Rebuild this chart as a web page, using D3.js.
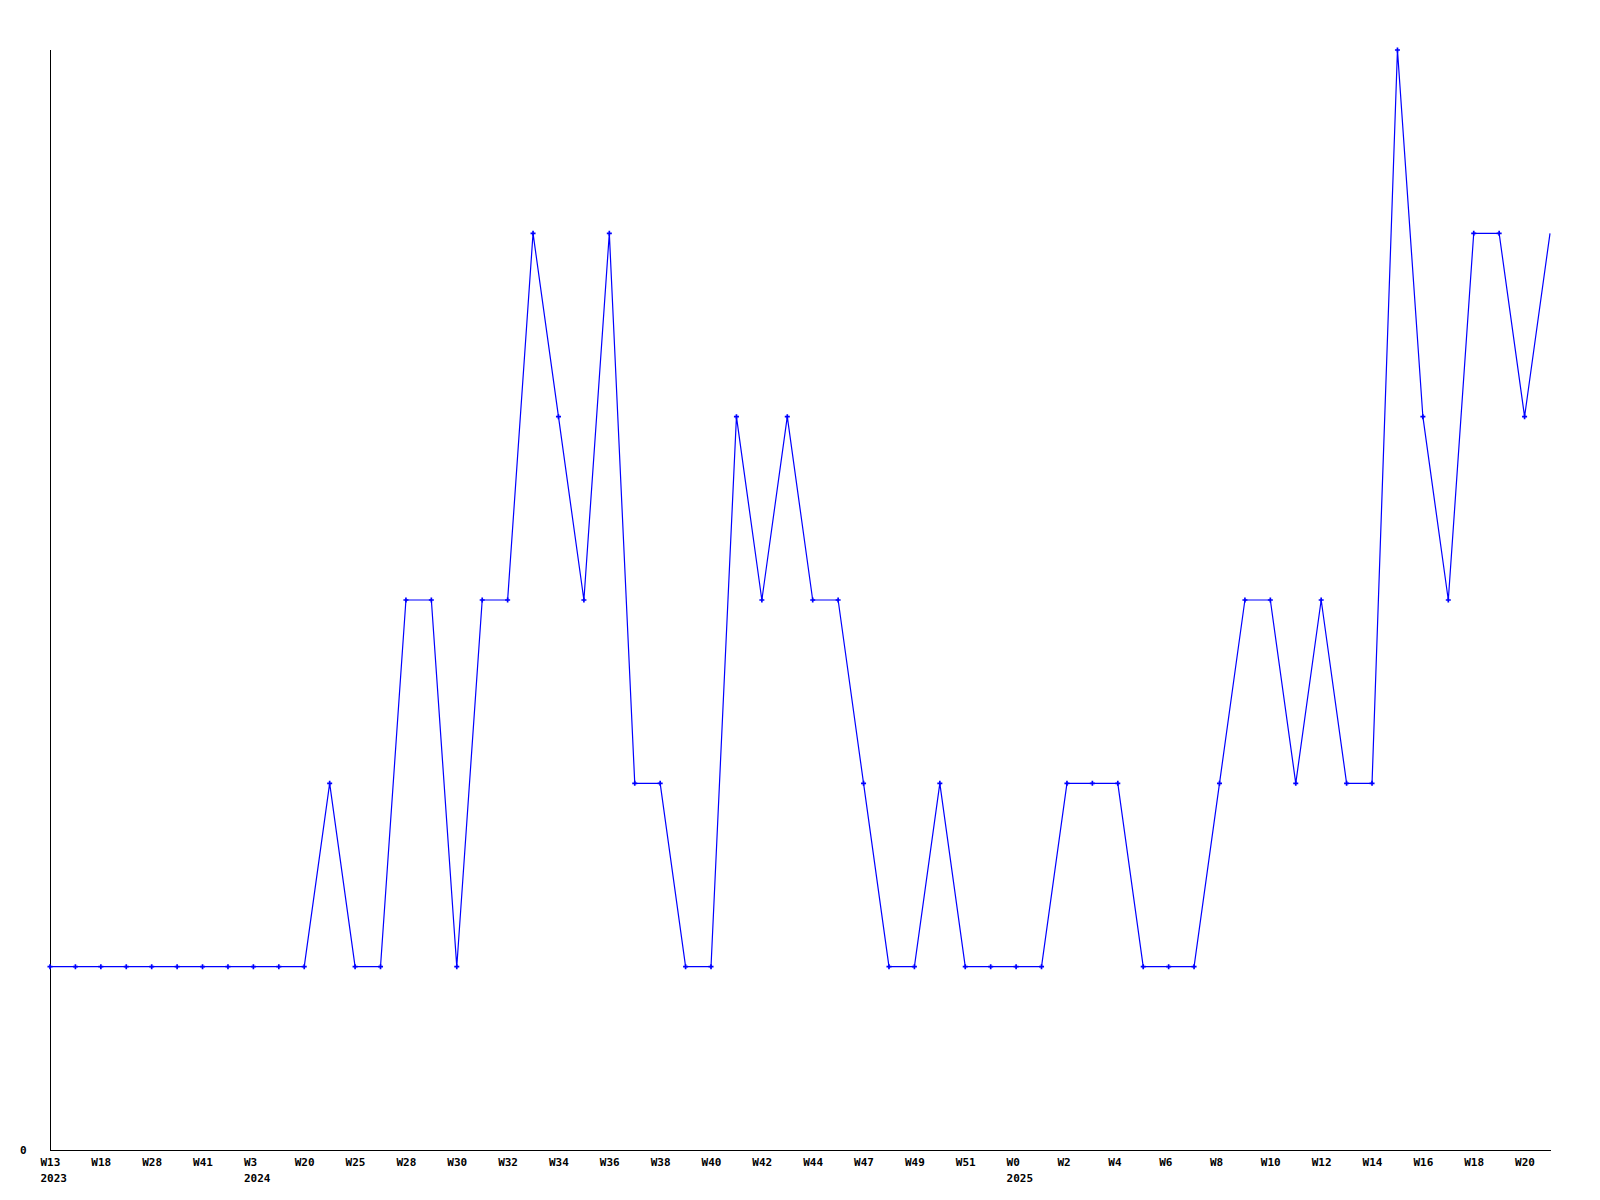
<!DOCTYPE html>
<html>
<head>
<meta charset="utf-8">
<script src="https://cdn.jsdelivr.net/npm/d3@7"></script>
<style>
  html, body { margin: 0; padding: 0; background: #fff; }
  svg { display: block; }
  text { font-family: "DejaVu Sans Mono", "Liberation Mono", monospace; font-weight: bold; font-size: 11px; fill: #000; }
</style>
</head>
<body>
<svg id="chart" width="1600" height="1200"></svg>
<script>
// Weekly values (one per point, index 0..59)
const values = [1,1,1,1,1,1,1,1,1,1,1,2,1,1,3,3,1,3,3,5,4,3,5,2,2,1,1,4,3,4,3,3,2,1,1,2,1,1,1,1,2,2,2,1,1,1,2,3,3,2,3,2,2,6,4,3,5,5,4,5];
// Tick labels shown on every second point
const tickLabels = ["W13","W18","W28","W41","W3","W20","W25","W28","W30","W32","W34","W36","W38","W40","W42","W44","W47","W49","W51","W0","W2","W4","W6","W8","W10","W12","W14","W16","W18","W20"];
// Year labels under certain ticks (tick index -> year)
const yearTicks = [0, 4, 19];
const yearLabels = ["2023","2024","2025"];
const yTicks = [0];

const svg = d3.select("#chart");
const mLeft = 50, mRight = 1550, mTop = 50, mBottom = 1150;

const x = d3.scaleLinear().domain([0, values.length - 1]).range([mLeft, mRight]);
const y = d3.scaleLinear().domain([0, 6]).range([mBottom, mTop]);

const tickIdx = tickLabels.map((_, i) => i * 2);

// X axis
const xAxis = d3.axisBottom(x)
  .tickValues(tickIdx)
  .tickSize(0)
  .tickSizeOuter(0)
  .tickFormat((d, i) => tickLabels[i]);
const gx = svg.append("g").attr("transform", `translate(0,${mBottom})`).call(xAxis);
gx.select(".domain").attr("stroke", "#000").attr("stroke-width", 1).attr("d", `M${mLeft},0.5H${mRight + 1}`).attr("shape-rendering", "crispEdges");
gx.selectAll(".tick text")
  .attr("text-anchor", "start")
  .attr("x", -10)
  .attr("y", 16)
  .attr("dy", 0)
  .style("font-family", "'DejaVu Sans Mono', monospace")
  .style("font-size", "11px")
  .style("font-weight", "bold")
  .attr("fill", "#000");
gx.selectAll(".tick").each(function(d, i) {
  const k = yearTicks.indexOf(i);
  if (k >= 0) {
    d3.select(this).append("text")
      .attr("x", -10).attr("y", 32)
      .attr("text-anchor", "start")
      .text(yearLabels[k]);
  }
});

// Y axis
const yAxis = d3.axisLeft(y).tickValues(yTicks).tickSize(0).tickSizeOuter(0).tickFormat(d3.format("d"));
const gy = svg.append("g").attr("transform", `translate(${mLeft},0)`).call(yAxis);
gy.select(".domain").attr("stroke", "#000").attr("stroke-width", 1).attr("d", `M0.5,${mTop}V${mBottom}`).attr("shape-rendering", "crispEdges");
gy.selectAll(".tick text")
  .attr("text-anchor", "start")
  .attr("x", -30)
  .attr("dy", "0.32em")
  .style("font-family", "'DejaVu Sans Mono', monospace")
  .style("font-size", "11px")
  .style("font-weight", "bold")
  .attr("fill", "#000");

// Line
const line = d3.line().x((d, i) => x(i)).y(d => y(d));
svg.append("path")
  .datum(values)
  .attr("fill", "none")
  .attr("stroke", "#0000ff")
  .attr("stroke-width", 1.2)
  .attr("d", line);

// Markers (last point is at the plot edge and has none)
const sym = d3.symbol().type(d3.symbolCross).size(14);
svg.append("g").selectAll("path")
  .data(values.slice(0, values.length - 1))
  .join("path")
  .attr("transform", (d, i) => `translate(${x(i)},${y(d)})`)
  .attr("d", sym)
  .attr("fill", "#0000ff");
</script>
</body>
</html>
